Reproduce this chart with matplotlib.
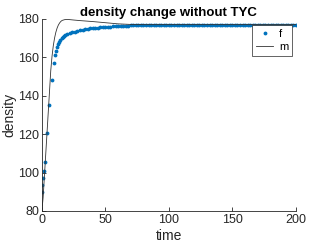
import matplotlib
matplotlib.use("Agg")
import matplotlib.pyplot as plt

t_f = [0, 0.5, 1.0, 1.6, 2.3, 4.0, 5.8, 7.6, 9.4, 10.2, 11.0, 11.8, 12.6, 13.5, 14.5,
       15.5, 16.5, 17.5, 18.5, 20, 22, 24, 26, 28, 30, 32, 34, 36, 38, 40, 42, 44, 46,
       48, 50, 52, 54, 56, 58, 60, 62, 64, 66, 68, 70, 72, 74, 76, 78, 80, 82, 84, 86,
       88, 90, 92, 94, 96, 98, 100, 102, 104, 106, 108, 110, 112, 114, 116, 118, 120,
       122, 124, 126, 128, 130, 132, 134, 136, 138, 140, 142, 144, 146, 148, 150, 152,
       154, 156, 158, 160, 162, 164, 166, 168, 170, 172, 174, 176, 178, 180, 182, 184,
       186, 188, 190, 192, 194, 196, 198, 200]
f_vals = [90.0, 93.5, 97.2, 101.0, 105.3, 120.5, 135.0, 148.0, 157.0, 161.0, 163.5, 165.5,
          167.0, 168.2, 169.2, 170.0, 170.6, 171.1, 171.5, 172.0, 172.5, 173.0, 173.4,
          173.7, 174.0, 174.3, 174.6, 174.8, 175.0, 175.2, 175.3, 175.5, 175.6, 175.7,
          175.8, 175.9, 176.0, 176.1, 176.2, 176.3, 176.4, 176.4, 176.5, 176.5, 176.6,
          176.6, 176.7, 176.7, 176.7, 176.8, 176.8, 176.8, 176.8, 176.9, 176.9, 176.9,
          176.9, 177.0, 177.0, 177.0, 177.0, 177.0, 177.0, 177.0, 177.0, 177.0, 177.0,
          177.0, 177.0, 177.0, 177.0, 177.0, 177.0, 177.0, 177.0, 177.0, 177.0, 177.0,
          177.0, 177.0, 177.0, 177.0, 177.0, 177.0, 177.0, 177.0, 177.0, 177.0, 177.0,
          177.0, 177.0, 177.0, 177.0, 177.0, 177.0, 177.0, 177.0, 177.0, 177.0, 177.0,
          177.0, 177.0, 177.0, 177.0, 177.0, 177.0, 177.0, 177.0, 177.0, 177.0]

t_m = [0, 1, 2, 3, 4, 5, 6, 7, 8, 9, 10, 11, 12, 13, 14, 15, 16, 18, 20, 22, 25, 30,
       40, 50, 60, 70, 80, 100, 150, 200]
m_vals = [80.0, 87.0, 98.0, 109.0, 120.0, 131.0, 142.0, 153.0, 160.5, 166.0, 170.0,
          173.0, 175.2, 176.8, 177.9, 178.7, 179.2, 179.6, 179.7, 179.6, 179.4, 179.1,
          178.6, 178.0, 177.4, 177.1, 177.0, 177.0, 177.0, 177.0]

plt.rcParams['font.family'] = ['Liberation Sans', 'DejaVu Sans']
fig = plt.figure(figsize=(3.27, 2.45), dpi=100)
ax = fig.add_axes([0.128, 0.139, 0.777, 0.784])

blue = (0.0, 0.447, 0.741)
dark = (0.15, 0.15, 0.15)
ax.plot(t_f, f_vals, '.', color=blue, markersize=3.5, label='f')
ax.plot(t_m, m_vals, '-', color=(0.2, 0.2, 0.2), linewidth=0.6, label='m')

ax.set_xlim(0, 200)
ax.set_ylim(80, 180)
ax.set_xticks([0, 50, 100, 150, 200])
ax.set_yticks([80, 100, 120, 140, 160, 180])
for s in ['top', 'right']:
    ax.spines[s].set_visible(False)
for s in ['left', 'bottom']:
    ax.spines[s].set_color(dark)
    ax.spines[s].set_linewidth(0.6)
ax.tick_params(direction='in', length=3, width=0.6, colors=dark,
               labelsize=9, pad=2)

ax.set_xlabel('time', fontsize=10, color=dark, labelpad=2)
ax.set_ylabel('density', fontsize=10, color=dark, labelpad=1)
ax.set_title('density change without TYC', fontsize=9.5, fontweight='bold', pad=2)

leg = ax.legend(loc='upper right', bbox_to_anchor=(0.985, 0.97), borderaxespad=0,
                fontsize=8, frameon=True, fancybox=False, edgecolor=dark,
                handlelength=1.6, borderpad=0.35, labelspacing=0.3, handletextpad=0.5,
                markerscale=1.0)
leg.get_frame().set_linewidth(0.5)
leg.get_frame().set_alpha(1.0)

fig.savefig('out.png', dpi=100)
